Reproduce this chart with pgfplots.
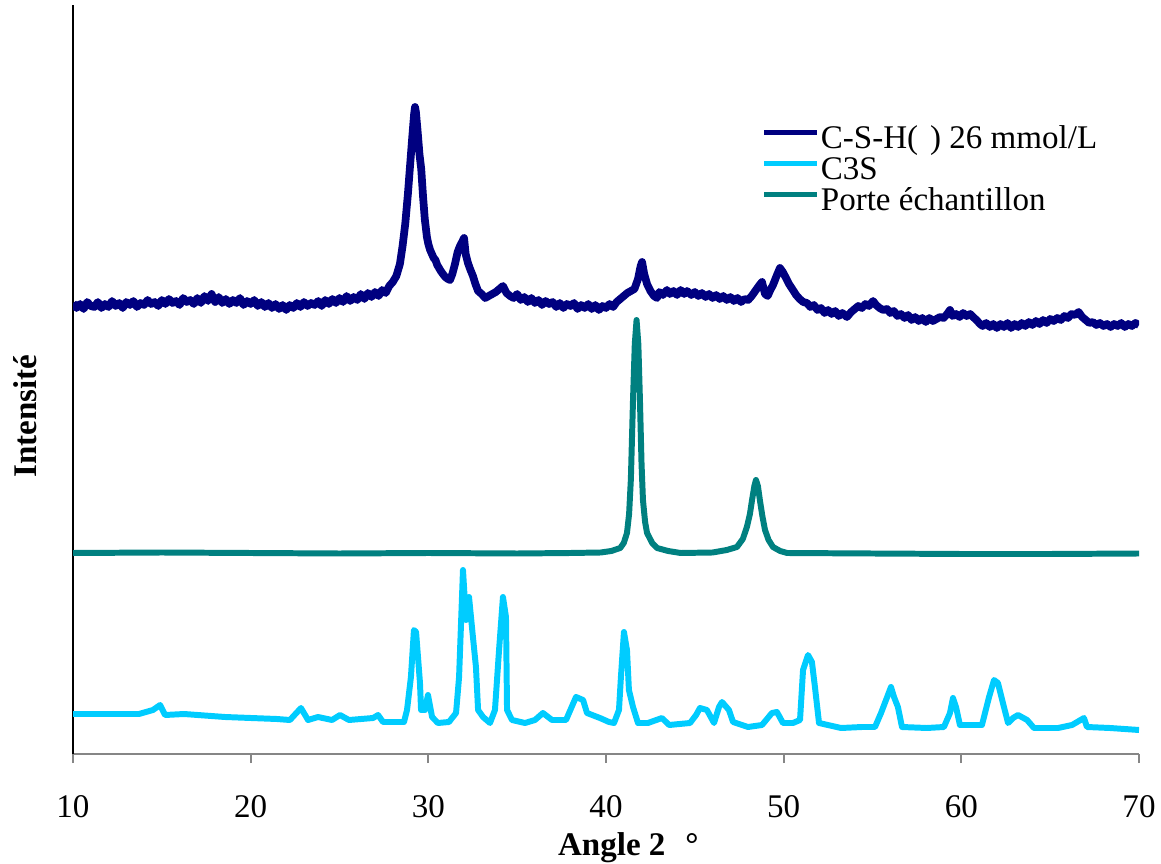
\documentclass[border=0pt]{standalone}
\usepackage{pgfplots}
\pgfplotsset{compat=1.18}
\usepackage{fontspec}
\setmainfont{Liberation Serif}
\definecolor{csh}{RGB}{0,0,128}
\definecolor{ctrois}{RGB}{0,204,255}
\definecolor{porte}{RGB}{0,128,128}
\definecolor{axgray}{RGB}{134,134,134}
\newcommand{\chartfont}{\fontsize{9.4}{11}\selectfont}
\begin{document}
\begin{tikzpicture}
\path[use as bounding box] (-0.73cm,-1.09cm) rectangle (10.88cm,7.54cm);
\begin{axis}[at={(0,0)}, anchor=south west, scale only axis,
  width=10.66cm, height=7.49cm,
  xmin=10, xmax=70, ymin=0, ymax=749,
  axis x line=bottom, axis y line=left, axis line style={-},
  x axis line style={axgray, line width=0.6pt},
  y axis line style={black, line width=0.6pt},
  xtick={10,20,...,70}, ytick=\empty,
  tick align=outside, major tick length=0.09cm,
  xtick style={axgray, line width=0.6pt},
  /pgf/number format/assume math mode=true,
  ticklabel style={font=\chartfont},
  xticklabel style={yshift=-0.2cm},
  xlabel={Angle 2\hspace{0.2cm}°}, ylabel={Intensité},
  xlabel style={font=\bfseries\chartfont, at={(axis description cs:0.521,-0.135)}, anchor=base},
  ylabel style={font=\bfseries\chartfont, at={(axis description cs:-0.045,0.451)}, anchor=center},
  legend style={draw=none, fill=none, at={(0.646,0.838)}, anchor=north west,
    inner sep=0pt, outer sep=0pt, row sep=0pt, column sep=0.01cm, font=\chartfont,
    nodes={inner sep=0pt, text height=6.3pt, text depth=2.5pt}},
  legend cell align=left,
  legend image code/.code={\draw[#1, line width=1.5pt] (0cm,0.09cm) -- (0.53cm,0.09cm);},
]
\addplot[csh, line width=2.2pt, line join=round] coordinates {
(10.0,451) (10.2,446) (10.4,450) (10.6,445) (10.8,452) (11.0,448) (11.2,447) (11.4,452) (11.6,446) (11.8,450)
(12.0,447) (12.2,453) (12.4,448) (12.6,451) (12.8,446) (13.0,452) (13.2,449) (13.4,453) (13.6,447) (13.8,451)
(14.0,449) (14.2,454) (14.4,450) (14.6,452) (14.8,448) (15.0,454) (15.2,450) (15.4,455) (15.6,451) (15.8,453)
(16.0,449) (16.2,456) (16.4,452) (16.6,454) (16.8,450) (17.0,456) (17.2,451) (17.4,458) (17.6,453) (17.8,460)
(18.0,452) (18.2,457) (18.4,451) (18.6,455) (18.8,450) (19.0,454) (19.2,451) (19.4,456) (19.6,449) (19.8,453)
(20.0,450) (20.2,454) (20.4,448) (20.6,452) (20.8,447) (21.0,451) (21.2,446) (21.4,450) (21.6,445) (21.8,449)
(22.0,444) (22.2,449) (22.4,446) (22.6,451) (22.8,447) (23.0,452) (23.2,448) (23.4,451) (23.6,449) (23.8,453)
(24.0,448) (24.2,454) (24.4,450) (24.6,455) (24.8,451) (25.0,456) (25.2,452) (25.4,458) (25.6,453) (25.8,457)
(26.0,454) (26.2,460) (26.4,455) (26.6,461) (26.8,457) (27.0,462) (27.2,458) (27.4,464) (27.6,461) (27.8,468)
(28.0,472) (28.2,478) (28.4,490) (28.55,508) (28.7,530) (28.85,560) (28.97,588) (29.1,618) (29.2,640) (29.25,647)
(29.3,642) (29.4,622) (29.5,600) (29.6,585) (29.7,558) (29.8,535) (29.92,517) (30.0,510) (30.1,504) (30.2,500)
(30.3,496) (30.4,494) (30.5,489) (30.6,486) (30.7,483) (30.82,480) (30.95,477) (31.1,475) (31.22,474) (31.35,480)
(31.5,490) (31.65,502) (31.78,508) (31.9,512) (32.01,516) (32.1,500) (32.23,491) (32.35,485) (32.51,478) (32.65,470)
(32.8,463) (33.0,460) (33.2,456) (33.4,458) (33.6,460) (33.8,462) (34.0,465) (34.2,468) (34.4,461) (34.6,458)
(34.8,456) (35.0,460) (35.2,454) (35.4,457) (35.6,452) (35.8,456) (36.0,451) (36.2,454) (36.4,449) (36.6,453)
(36.8,450) (37.0,452) (37.2,447) (37.4,451) (37.6,446) (37.8,450) (38.0,448) (38.2,451) (38.4,445) (38.6,449)
(38.8,446) (39.0,450) (39.2,445) (39.4,449) (39.6,444) (39.8,448) (40.0,446) (40.2,450) (40.4,447) (40.6,452)
(40.8,455) (41.0,458) (41.2,461) (41.4,463) (41.6,465) (41.8,475) (41.95,488) (42.03,492) (42.15,480) (42.31,470)
(42.5,463) (42.7,458) (42.87,456) (43.0,462) (43.2,459) (43.43,464) (43.6,460) (43.8,463) (44.0,459) (44.2,464)
(44.4,460) (44.56,463) (44.8,459) (45.0,462) (45.2,458) (45.4,461) (45.6,457) (45.8,460) (46.0,456) (46.2,459)
(46.4,455) (46.6,458) (46.8,454) (47.0,457) (47.2,453) (47.4,456) (47.6,452) (47.8,455) (48.0,454) (48.2,458)
(48.4,463) (48.6,468) (48.78,472) (48.95,460) (49.1,458) (49.25,464) (49.4,469) (49.6,478) (49.79,486) (49.95,482)
(50.1,477) (50.3,470) (50.52,464) (50.7,459) (50.9,455) (51.1,452) (51.31,451) (51.5,447) (51.7,449) (51.9,444)
(52.1,446) (52.3,441) (52.5,444) (52.7,440) (52.9,443) (53.1,438) (53.3,441) (53.56,437) (53.8,442) (54.0,445)
(54.2,448) (54.4,446) (54.6,450) (54.8,448) (55.03,453) (55.2,449) (55.4,446) (55.6,444) (55.82,445) (56.0,441)
(56.2,443) (56.4,438) (56.6,440) (56.8,436) (57.0,439) (57.2,434) (57.4,437) (57.6,433) (57.8,436) (58.0,432)
(58.2,436) (58.4,433) (58.6,435) (58.8,437) (59.0,436) (59.2,440) (59.36,444) (59.5,438) (59.7,440) (59.9,437)
(60.1,441) (60.3,438) (60.5,440) (60.66,437) (60.85,434) (61.05,430) (61.2,428) (61.4,431) (61.6,427) (61.8,430)
(62.0,426) (62.2,430) (62.4,427) (62.6,431) (62.8,426) (63.0,430) (63.2,427) (63.4,431) (63.6,428) (63.8,432)
(64.0,429) (64.2,433) (64.4,430) (64.6,434) (64.8,431) (65.0,435) (65.2,433) (65.4,436) (65.6,434) (65.8,438)
(66.0,436) (66.2,440) (66.4,439) (66.6,442) (66.8,437) (67.0,434) (67.2,431) (67.4,432) (67.6,429) (67.8,431)
(68.0,428) (68.2,430) (68.4,427) (68.6,430) (68.8,428) (69.0,431) (69.2,427) (69.4,430) (69.6,428) (69.8,431)
(70.0,429)
};
\addlegendentry{C-S-H(\hspace{0.12cm}) 26 mmol/L}
\addplot[ctrois, line width=1.7pt, line join=round] coordinates {
(10.0,40) (13.71,40) (14.50,44) (14.90,49) (15.18,39) (16.25,40) (18.56,37) (21.48,35) (22.21,34) (22.83,46)
(23.23,34) (23.79,37) (24.58,34) (25.03,39) (25.53,34) (26.89,36) (27.17,39) (27.45,32) (28.63,32) (28.80,44)
(29.02,77) (29.19,124) (29.31,122) (29.53,71) (29.59,44) (29.81,44) (29.98,59) (30.21,37) (30.54,31) (31.16,32)
(31.56,41) (31.73,77) (31.95,184) (32.12,134) (32.29,157) (32.51,117) (32.68,87) (32.80,44) (33.08,37) (33.47,31)
(33.75,44) (33.98,104) (34.20,157) (34.37,137) (34.43,44) (34.71,34) (35.44,31) (36.00,34) (36.45,41) (36.96,34)
(37.75,34) (38.31,57) (38.71,54) (38.93,41) (39.66,36) (40.17,32) (40.45,31) (40.73,44) (40.84,77) (41.01,122)
(41.18,104) (41.29,64) (41.52,47) (41.80,31) (42.36,31) (43.15,36) (43.55,29) (44.73,31) (45.07,39) (45.29,46)
(45.68,44) (46.08,31) (46.36,47) (46.53,52) (46.92,44) (47.15,32) (47.99,27) (48.78,29) (49.34,41) (49.62,42)
(49.96,31) (50.52,31) (50.92,34) (51.09,84) (51.37,99) (51.59,92) (51.76,67) (51.99,31) (53.23,26) (54.41,27)
(55.14,27) (55.48,41) (55.76,54) (56.04,67) (56.21,57) (56.43,47) (56.66,27) (58.07,26) (59.02,27) (59.36,41)
(59.53,56) (59.70,47) (59.92,29) (61.16,29) (61.56,57) (61.84,74) (62.06,71) (62.34,51) (62.63,31) (62.91,36)
(63.19,39) (63.70,34) (64.09,26) (65.44,26) (66.23,29) (66.90,36) (67.07,27) (68.37,26) (70.0,24)
};
\addlegendentry{C3S}
\addplot[porte, line width=1.7pt, line join=round] coordinates {
(10,201) (15,201.5) (20,201) (25,200.5) (30,201) (35,200.5) (38,201) (39.7,201.5) (40.3,203) (40.8,206)
(41.0,211) (41.18,221) (41.3,240) (41.4,275) (41.52,354) (41.62,410) (41.72,434) (41.82,410) (41.91,354) (42.0,290)
(42.08,254) (42.2,232) (42.31,221) (42.6,211) (42.87,206) (43.5,203) (44.2,201) (46,201.5) (46.8,204) (47.37,207)
(47.7,215) (47.93,227) (48.1,240) (48.22,254) (48.35,268) (48.44,274) (48.55,268) (48.66,254) (48.8,238) (48.95,224)
(49.15,214) (49.4,207) (49.8,203) (50.2,201) (55,200.5) (60,200) (65,200) (70,200.5)
};
\addlegendentry{Porte échantillon}
\end{axis}
\end{tikzpicture}
\end{document}
